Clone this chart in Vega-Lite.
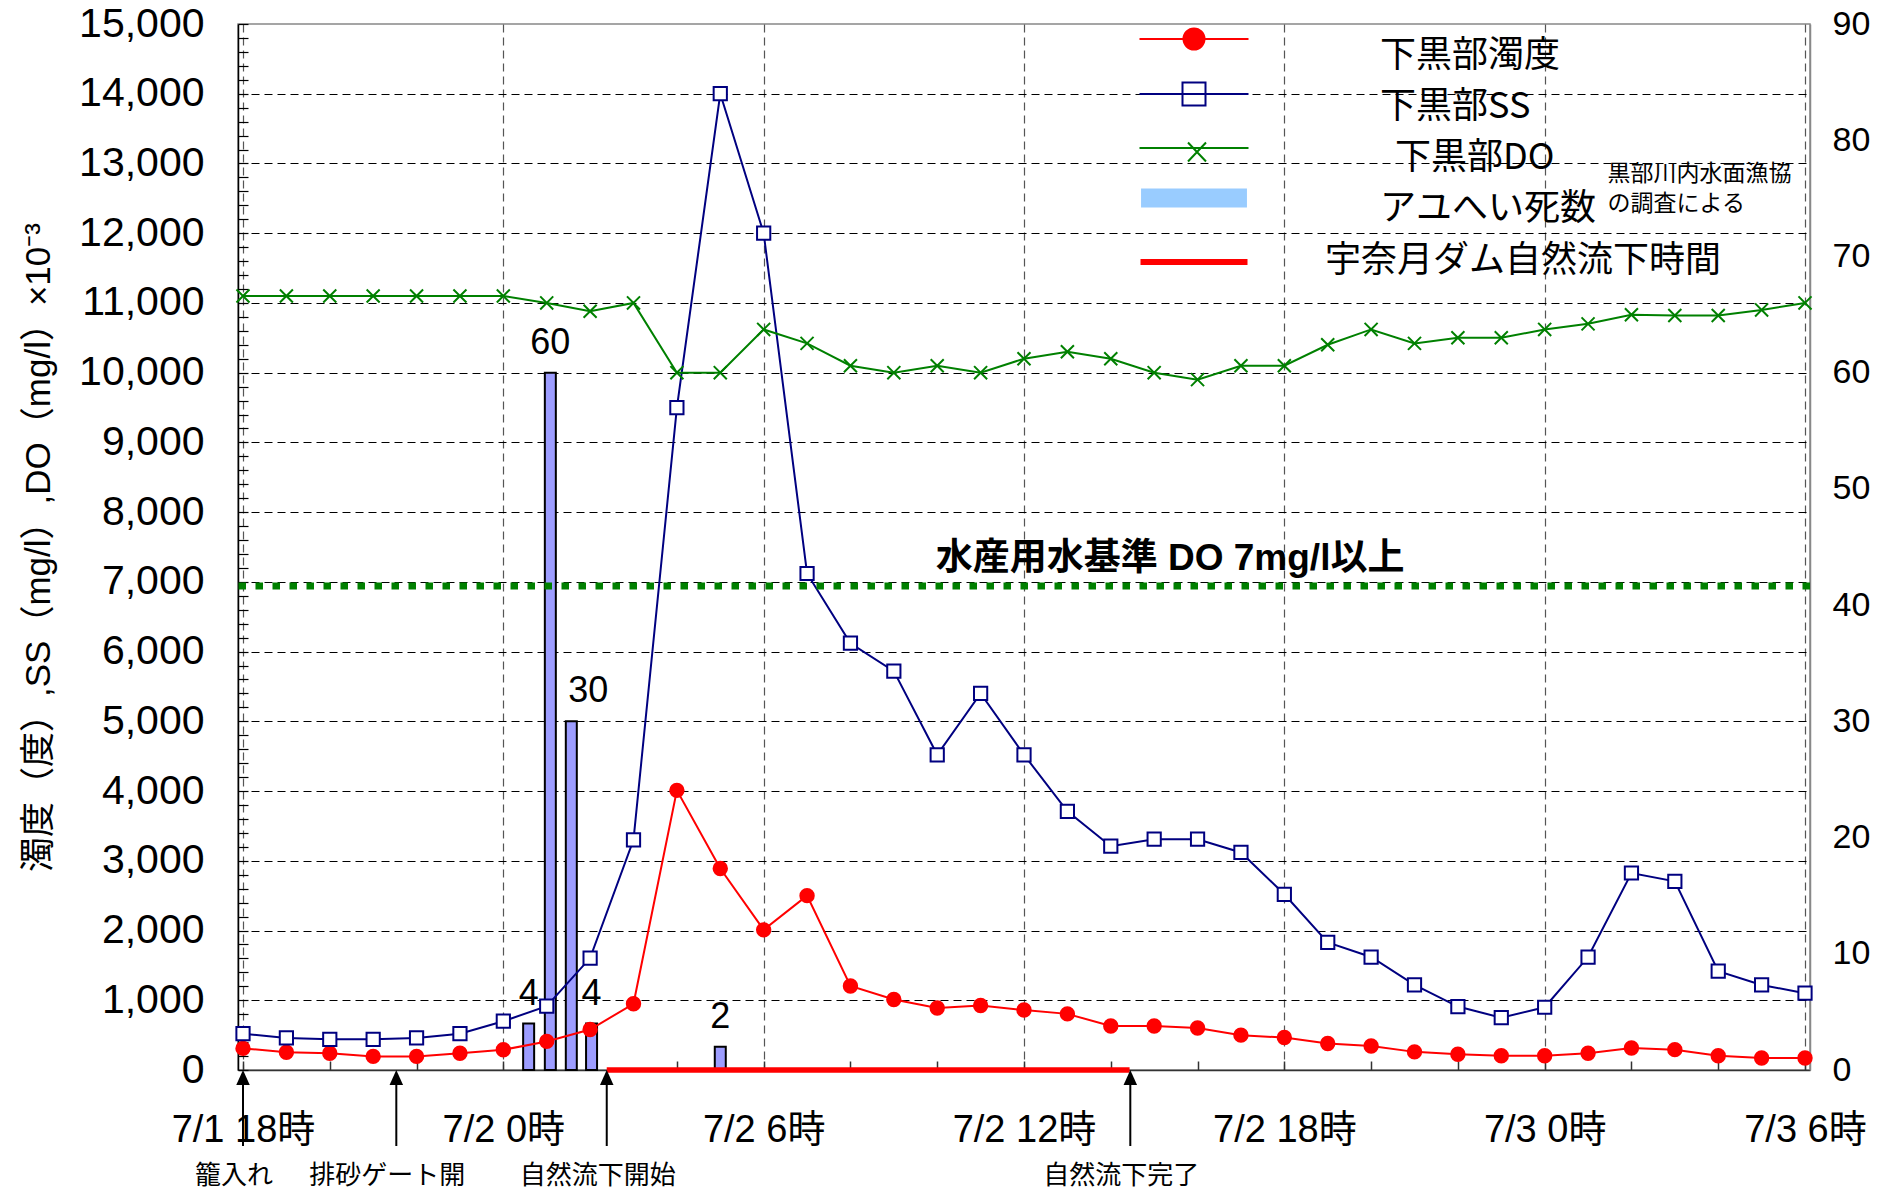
{
  "$schema": "https://vega.github.io/schema/vega-lite/v6.json",
  "width": 1572,
  "height": 1046,
  "autosize": "none",
  "padding": {"left": 238, "top": 24, "right": 76, "bottom": 124},
  "background": "white",
  "config": {
    "view": {"stroke": "#888888", "strokeWidth": 1.5},
    "font": "Liberation Sans, Noto Sans CJK JP"
  },
  "datasets": {
    "wq": [
      {"t": "2005-07-01T18:00", "下黒部濁度": 310, "下黒部SS": 520, "下黒部DO": 11100},
      {"t": "2005-07-01T19:00", "下黒部濁度": 255, "下黒部SS": 460, "下黒部DO": 11100},
      {"t": "2005-07-01T20:00", "下黒部濁度": 240, "下黒部SS": 440, "下黒部DO": 11100},
      {"t": "2005-07-01T21:00", "下黒部濁度": 195, "下黒部SS": 440, "下黒部DO": 11100},
      {"t": "2005-07-01T22:00", "下黒部濁度": 195, "下黒部SS": 460, "下黒部DO": 11100},
      {"t": "2005-07-01T23:00", "下黒部濁度": 240, "下黒部SS": 520, "下黒部DO": 11100},
      {"t": "2005-07-02T00:00", "下黒部濁度": 290, "下黒部SS": 700, "下黒部DO": 11100},
      {"t": "2005-07-02T01:00", "下黒部濁度": 410, "下黒部SS": 915, "下黒部DO": 11000},
      {"t": "2005-07-02T02:00", "下黒部濁度": 580, "下黒部SS": 1605, "下黒部DO": 10880},
      {"t": "2005-07-02T03:00", "下黒部濁度": 950, "下黒部SS": 3300, "下黒部DO": 11000},
      {"t": "2005-07-02T04:00", "下黒部濁度": 4010, "下黒部SS": 9500, "下黒部DO": 10000},
      {"t": "2005-07-02T05:00", "下黒部濁度": 2890, "下黒部SS": 14000, "下黒部DO": 10000},
      {"t": "2005-07-02T06:00", "下黒部濁度": 2010, "下黒部SS": 12000, "下黒部DO": 10620},
      {"t": "2005-07-02T07:00", "下黒部濁度": 2500, "下黒部SS": 7120, "下黒部DO": 10420},
      {"t": "2005-07-02T08:00", "下黒部濁度": 1205, "下黒部SS": 6120, "下黒部DO": 10100},
      {"t": "2005-07-02T09:00", "下黒部濁度": 1010, "下黒部SS": 5720, "下黒部DO": 10000},
      {"t": "2005-07-02T10:00", "下黒部濁度": 890, "下黒部SS": 4520, "下黒部DO": 10100},
      {"t": "2005-07-02T11:00", "下黒部濁度": 925, "下黒部SS": 5400, "下黒部DO": 10000},
      {"t": "2005-07-02T12:00", "下黒部濁度": 860, "下黒部SS": 4520, "下黒部DO": 10200},
      {"t": "2005-07-02T13:00", "下黒部濁度": 805, "下黒部SS": 3710, "下黒部DO": 10300},
      {"t": "2005-07-02T14:00", "下黒部濁度": 630, "下黒部SS": 3210, "下黒部DO": 10200},
      {"t": "2005-07-02T15:00", "下黒部濁度": 630, "下黒部SS": 3310, "下黒部DO": 10000},
      {"t": "2005-07-02T16:00", "下黒部濁度": 603, "下黒部SS": 3310, "下黒部DO": 9900},
      {"t": "2005-07-02T17:00", "下黒部濁度": 500, "下黒部SS": 3120, "下黒部DO": 10100},
      {"t": "2005-07-02T18:00", "下黒部濁度": 465, "下黒部SS": 2520, "下黒部DO": 10100},
      {"t": "2005-07-02T19:00", "下黒部濁度": 380, "下黒部SS": 1830, "下黒部DO": 10400},
      {"t": "2005-07-02T20:00", "下黒部濁度": 345, "下黒部SS": 1620, "下黒部DO": 10620},
      {"t": "2005-07-02T21:00", "下黒部濁度": 260, "下黒部SS": 1220, "下黒部DO": 10420},
      {"t": "2005-07-02T22:00", "下黒部濁度": 225, "下黒部SS": 910, "下黒部DO": 10500},
      {"t": "2005-07-02T23:00", "下黒部濁度": 205, "下黒部SS": 750, "下黒部DO": 10500},
      {"t": "2005-07-03T00:00", "下黒部濁度": 205, "下黒部SS": 900, "下黒部DO": 10620},
      {"t": "2005-07-03T01:00", "下黒部濁度": 240, "下黒部SS": 1620, "下黒部DO": 10700},
      {"t": "2005-07-03T02:00", "下黒部濁度": 316, "下黒部SS": 2825, "下黒部DO": 10830},
      {"t": "2005-07-03T03:00", "下黒部濁度": 292, "下黒部SS": 2706, "下黒部DO": 10820},
      {"t": "2005-07-03T04:00", "下黒部濁度": 205, "下黒部SS": 1418, "下黒部DO": 10820},
      {"t": "2005-07-03T05:00", "下黒部濁度": 172, "下黒部SS": 1220, "下黒部DO": 10900},
      {"t": "2005-07-03T06:00", "下黒部濁度": 172, "下黒部SS": 1102, "下黒部DO": 11000}
    ],
    "ayu": [
      {"t": "2005-07-02T00:35", "count": 4},
      {"t": "2005-07-02T01:05", "count": 60},
      {"t": "2005-07-02T01:34", "count": 30},
      {"t": "2005-07-02T02:02", "count": 4},
      {"t": "2005-07-02T05:00", "count": 2}
    ],
    "events": [
      {"t": "2005-07-01T18:00", "label": "籠入れ"},
      {"t": "2005-07-01T21:32", "label": "排砂ゲート開"},
      {"t": "2005-07-02T02:23", "label": "自然流下開始"},
      {"t": "2005-07-02T14:27", "label": "自然流下完了"}
    ],
    "dam": [
      {"start": "2005-07-02T02:23", "end": "2005-07-02T14:26", "label": "宇奈月ダム自然流下時間"}
    ],
    "standard": [
      {"label": "水産用水基準 DO 7mg/l以上", "value": 6940}
    ],
    "note": [
      {"source": "黒部川内水面漁協の調査による"}
    ]
  },
  "resolve": {"scale": {"y": "independent"}, "axis": {"y": "independent"}},
  "layer": [
    {
      "data": {"name": "ayu"},
      "layer": [
        {
          "mark": {"type": "bar", "width": 11, "fill": "#9d9dff", "stroke": "#000000", "strokeWidth": 2},
          "encoding": {
            "x": {"field": "t", "type": "temporal"},
            "y": {
              "field": "count", "type": "quantitative",
              "scale": {"domain": [0, 90], "nice": false},
              "axis": {
                "orient": "right", "title": null,
                "values": [0, 10, 20, 30, 40, 50, 60, 70, 80, 90],
                "grid": false, "ticks": false,
                "domainColor": "#888888", "domainWidth": 1.5,
                "labelFont": "Liberation Sans", "labelFontSize": 34, "labelColor": "#000000", "labelPadding": 22
              }
            }
          }
        },
        {
          "transform": [{"filter": "datum.count !== 30"}],
          "mark": {"type": "text", "baseline": "alphabetic", "dy": -19, "fontSize": 36, "font": "Liberation Sans", "color": "#000000"},
          "encoding": {
            "x": {"field": "t", "type": "temporal"},
            "y": {"field": "count", "type": "quantitative"},
            "text": {"field": "count", "type": "quantitative"}
          }
        },
        {
          "transform": [{"filter": "datum.count === 30"}],
          "mark": {"type": "text", "baseline": "alphabetic", "dy": -19, "dx": 17, "fontSize": 36, "font": "Liberation Sans", "color": "#000000"},
          "encoding": {
            "x": {"field": "t", "type": "temporal"},
            "y": {"field": "count", "type": "quantitative"},
            "text": {"field": "count", "type": "quantitative"}
          }
        }
      ]
    },
    {
      "layer": [
        {
          "data": {"name": "wq"},
          "transform": [{"fold": ["下黒部濁度", "下黒部SS", "下黒部DO"], "as": ["series", "value"]}],
          "mark": {"type": "line", "strokeWidth": 2},
          "encoding": {
            "x": {
              "field": "t", "type": "temporal",
              "scale": {"domain": [
                {"year": 2005, "month": 7, "date": 1, "hours": 18},
                {"year": 2005, "month": 7, "date": 3, "hours": 6}
              ]},
              "axis": {
                "orient": "bottom", "title": null,
                "tickCount": 100,
                "values": [
                  {"year": 2005, "month": 7, "date": 1, "hours": 18},
                  {"year": 2005, "month": 7, "date": 1, "hours": 20},
                  {"year": 2005, "month": 7, "date": 1, "hours": 22},
                  {"year": 2005, "month": 7, "date": 2, "hours": 0},
                  {"year": 2005, "month": 7, "date": 2, "hours": 2},
                  {"year": 2005, "month": 7, "date": 2, "hours": 4},
                  {"year": 2005, "month": 7, "date": 2, "hours": 6},
                  {"year": 2005, "month": 7, "date": 2, "hours": 8},
                  {"year": 2005, "month": 7, "date": 2, "hours": 10},
                  {"year": 2005, "month": 7, "date": 2, "hours": 12},
                  {"year": 2005, "month": 7, "date": 2, "hours": 14},
                  {"year": 2005, "month": 7, "date": 2, "hours": 16},
                  {"year": 2005, "month": 7, "date": 2, "hours": 18},
                  {"year": 2005, "month": 7, "date": 2, "hours": 20},
                  {"year": 2005, "month": 7, "date": 2, "hours": 22},
                  {"year": 2005, "month": 7, "date": 3, "hours": 0},
                  {"year": 2005, "month": 7, "date": 3, "hours": 2},
                  {"year": 2005, "month": 7, "date": 3, "hours": 4},
                  {"year": 2005, "month": 7, "date": 3, "hours": 6}
                ],
                "labelExpr": "hours(datum.value) % 6 === 0 ? timeFormat(datum.value, '%-m/%-d %-H') + '時' : ''",
                "labelFont": "Liberation Sans, Noto Sans CJK JP", "labelFontSize": 38, "labelColor": "#000000",
                "labelPadding": 50, "labelOverlap": false, "labelFlush": false, "labelBound": false,
                "tickSize": -9,
                "tickColor": "#333333", "tickWidth": 1.5,
                "grid": true, "gridColor": "#555555", "gridDash": [8, 5], "gridWidth": 1.2,
                "gridOpacity": {"condition": {"test": "hours(datum.value) % 6 === 0", "value": 1}, "value": 0},
                "domainColor": "#333333", "domainWidth": 1.5, "zindex": 0
              }
            },
            "y": {
              "field": "value", "type": "quantitative",
              "scale": {"domain": [0, 15000], "nice": false},
              "axis": {
                "orient": "left",
                "title": "濁度（度）,SS（mg/l）,DO（mg/l）×10⁻³",
                "titleFont": "Liberation Sans, Noto Sans CJK JP", "titleFontSize": 35, "titleFontWeight": "normal",
                "titleColor": "#000000", "titlePadding": 22,
                "tickCount": 100,
                "values": [0,200,400,600,800,1000,1200,1400,1600,1800,2000,2200,2400,2600,2800,3000,3200,3400,3600,3800,4000,4200,4400,4600,4800,5000,5200,5400,5600,5800,6000,6200,6400,6600,6800,7000,7200,7400,7600,7800,8000,8200,8400,8600,8800,9000,9200,9400,9600,9800,10000,10200,10400,10600,10800,11000,11200,11400,11600,11800,12000,12200,12400,12600,12800,13000,13200,13400,13600,13800,14000,14200,14400,14600,14800,15000],
                "labelExpr": "datum.value % 1000 === 0 ? format(datum.value, ',') : ''",
                "labelFont": "Liberation Sans", "labelFontSize": 41, "labelColor": "#000000", "labelPadding": 44,
                "labelOverlap": false,
                "tickSize": -10, "tickColor": "#000000", "tickWidth": 1.2,
                "grid": true, "gridColor": "#000000", "gridDash": [8, 5], "gridWidth": 1,
                "gridOpacity": {"condition": {"test": "datum.value % 1000 === 0 && datum.value > 0 && datum.value < 15000", "value": 1}, "value": 0},
                "domainColor": "#000000", "domainWidth": 1.5, "zindex": 0
              }
            },
            "color": {
              "field": "series", "type": "nominal",
              "scale": {
                "domain": ["下黒部濁度", "下黒部SS", "下黒部DO", "アユへい死数", "宇奈月ダム自然流下時間"],
                "range": ["#ff0000", "#000080", "#008000", "#99ccff", "#ff0000"]
              },
              "legend": {
                "orient": "none", "legendX": 938, "legendY": 14, "title": null, "padding": 0,
                "symbolSize": 400, "symbolStrokeWidth": 2,
                "labelFont": "Noto Sans CJK JP", "labelFontSize": 36, "labelColor": "#000000", "labelLimit": 900,
                "labelOffset": 168, "rowPadding": -27,
                "encode": {
                  "symbols": {"update": {
                    "shape": {"signal": "datum.value === '下黒部濁度' ? 'M0,-2.9L0,-2.9M0,2.9L0,2.9M-5.45,-1.7H5.45M-1.05,-1.7A1.05,1.05,0,1,1,1.05,-1.7A1.05,1.05,0,1,1,-1.05,-1.7Z' : datum.value === '下黒部SS' ? 'M0,-2.9L0,-2.9M0,2.9L0,2.9M-5.45,-1.3H5.45M-1.15,-2.45H1.15V-0.15H-1.15Z' : datum.value === '下黒部DO' ? 'M0,-2.9L0,-2.9M0,2.9L0,2.9M-5.45,-1H5.45M-0.6,-1.55L1.2,0.35M-0.6,0.35L1.2,-1.55' : datum.value === 'アユへい死数' ? 'M0,-2.9L0,-2.9M0,2.9L0,2.9M-5.17,-1.93H5.17V-0.27H-5.17Z' : 'M0,-2.3L0,-2.3M0,2.3L0,2.3M-5.35,0.1H5.35'"},
                    "fill": {"signal": "datum.value === '下黒部濁度' ? '#ff0000' : datum.value === '下黒部SS' ? '#ffffff' : datum.value === 'アユへい死数' ? '#99ccff' : 'transparent'"},
                    "stroke": {"signal": "datum.value === '下黒部濁度' ? '#ff0000' : datum.value === '下黒部SS' ? '#000080' : datum.value === '下黒部DO' ? '#008000' : datum.value === 'アユへい死数' ? '#000000' : '#ff0000'"},
                    "strokeWidth": {"signal": "datum.value === '宇奈月ダム自然流下時間' ? 6 : datum.value === 'アユへい死数' ? 2.5 : 2"},
                    "opacity": {"value": 1},
                    "fillOpacity": {"value": 1},
                    "strokeOpacity": {"value": 1}
                  }},
                  "labels": {"update": {
                    "dx": {"signal": "datum.value === '下黒部DO' ? 15 : datum.value === '宇奈月ダム自然流下時間' ? -55 : 0"}
                  }}
                }
              }
            }
          }
        },
        {
          "data": {"name": "wq"},
          "transform": [{"fold": ["下黒部濁度", "下黒部SS", "下黒部DO"], "as": ["series", "value"]}],
          "mark": {"type": "point", "filled": false, "strokeWidth": 2, "opacity": 1},
          "encoding": {
            "x": {"field": "t", "type": "temporal"},
            "y": {"field": "value", "type": "quantitative"},
            "color": {"field": "series", "type": "nominal"},
            "shape": {
              "field": "series", "type": "nominal",
              "scale": {"domain": ["下黒部濁度", "下黒部SS", "下黒部DO"], "range": ["circle", "square", "M-1,-1L1,1M-1,1L1,-1"]},
              "legend": null
            },
            "fill": {
              "field": "series", "type": "nominal",
              "scale": {"domain": ["下黒部濁度", "下黒部SS", "下黒部DO"], "range": ["#ff0000", "#ffffff", "transparent"]},
              "legend": null
            },
            "size": {
              "field": "series", "type": "nominal",
              "scale": {"domain": ["下黒部濁度", "下黒部SS", "下黒部DO"], "range": [180, 170, 64]},
              "legend": null
            }
          }
        },
        {
          "data": {"name": "standard"},
          "mark": {"type": "rule", "color": "#008000", "strokeWidth": 7, "strokeDash": [7.5, 9.5]},
          "encoding": {
            "y": {"field": "value", "type": "quantitative"}
          }
        },
        {
          "data": {"name": "standard"},
          "mark": {"type": "text", "dy": -27, "fontSize": 37, "fontWeight": "bold", "baseline": "middle", "align": "center", "color": "#000000", "font": "Liberation Sans, Noto Sans CJK JP"},
          "encoding": {
            "x": {"datum": {"year": 2005, "month": 7, "date": 2, "hours": 15, "minutes": 22}, "type": "temporal"},
            "y": {"field": "value", "type": "quantitative"},
            "text": {"field": "label", "type": "nominal"}
          }
        },
        {
          "data": {"name": "note"},
          "mark": {"type": "text", "text": ["黒部川内水面漁協", "の調査による"], "fontSize": 23, "lineHeight": 30, "baseline": "middle", "align": "left", "color": "#000000", "font": "Noto Sans CJK JP"},
          "encoding": {
            "x": {"datum": {"year": 2005, "month": 7, "date": 3, "hours": 1, "minutes": 27}, "type": "temporal"},
            "y": {"datum": 12850, "type": "quantitative"}
          }
        },
        {
          "data": {"name": "dam"},
          "mark": {"type": "rule", "color": "#ff0000", "strokeWidth": 5.5},
          "encoding": {
            "x": {"field": "start", "type": "temporal"},
            "x2": {"field": "end"},
            "y": {"datum": 0, "type": "quantitative"}
          }
        },
        {
          "data": {"name": "events"},
          "mark": {"type": "rule", "color": "#000000", "strokeWidth": 2},
          "encoding": {
            "x": {"field": "t", "type": "temporal"},
            "y": {"datum": -1090, "type": "quantitative"},
            "y2": {"datum": -150}
          }
        },
        {
          "data": {"name": "events"},
          "mark": {"type": "point", "shape": "M0,0L-0.45,1L0.45,1Z", "size": 900, "filled": true, "color": "#000000", "opacity": 1},
          "encoding": {
            "x": {"field": "t", "type": "temporal"},
            "y": {"datum": 0, "type": "quantitative"}
          }
        },
        {
          "data": {"name": "events"},
          "mark": {"type": "text", "fontSize": 26, "dx": -9, "baseline": "middle", "align": "center", "color": "#000000", "font": "Noto Sans CJK JP"},
          "encoding": {
            "x": {"field": "t", "type": "temporal"},
            "y": {"datum": -1520, "type": "quantitative"},
            "text": {"field": "label", "type": "nominal"}
          }
        }
      ]
    }
  ]
}
